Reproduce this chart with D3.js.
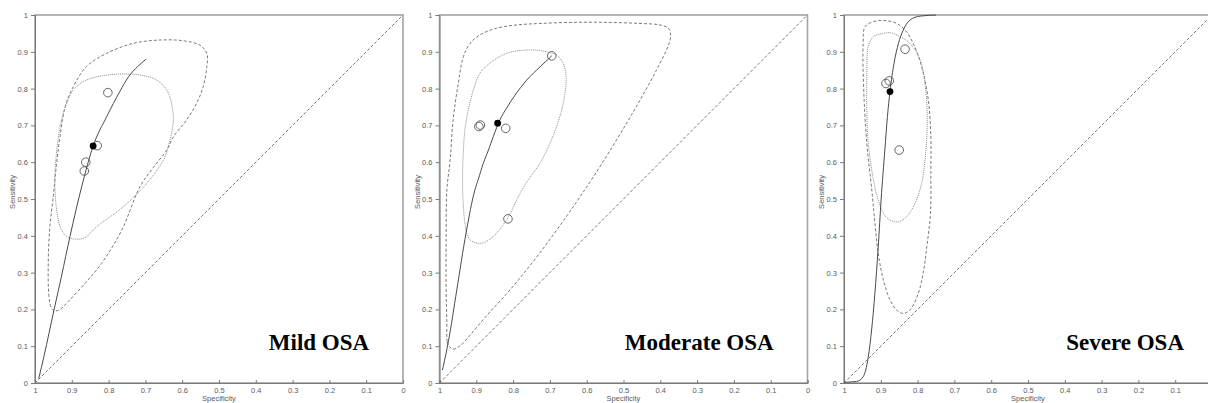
<!DOCTYPE html>
<html>
<head>
<meta charset="utf-8">
<script src="https://cdn.jsdelivr.net/npm/d3@7"></script>
<style>
body { margin: 0; background: #fff; }
svg { display: block; }
</style>
</head>
<body>
<svg width="1208" height="403"></svg>
<script>

// axis ticks
var tickValues = [0, 0.1, 0.2, 0.3, 0.4, 0.5, 0.6, 0.7, 0.8, 0.9, 1];
var tickLabels = ["0", "0.1", "0.2", "0.3", "0.4", "0.5", "0.6", "0.7", "0.8", "0.9", "1"];
var chanceLine = [[1, 0], [0, 1]];

// points are [specificity, sensitivity]

// Mild OSA
var mildStudies = [[0.802, 0.789], [0.831, 0.645], [0.862, 0.600], [0.866, 0.576]];
var mildSummary = [[0.842, 0.644]];
var mildSroc = [[0.990, 0.012], [0.975, 0.075], [0.962, 0.135], [0.948, 0.200], [0.928, 0.290],
    [0.905, 0.398], [0.873, 0.534], [0.842, 0.644], [0.805, 0.724], [0.769, 0.793],
    [0.746, 0.832], [0.721, 0.860], [0.698, 0.880]];
var mildConfidence = [[0.932, 0.696], [0.914, 0.760], [0.896, 0.796], [0.869, 0.819], [0.832, 0.832],
    [0.778, 0.839], [0.715, 0.837], [0.669, 0.823], [0.642, 0.796], [0.629, 0.760],
    [0.624, 0.715], [0.629, 0.679], [0.638, 0.642], [0.651, 0.606], [0.696, 0.543],
    [0.760, 0.479], [0.832, 0.425], [0.864, 0.395], [0.891, 0.391], [0.910, 0.396],
    [0.928, 0.416], [0.941, 0.470], [0.946, 0.561]];
var mildPrediction = [[0.955, 0.203], [0.962, 0.235], [0.964, 0.325], [0.960, 0.420], [0.950, 0.510],
    [0.942, 0.590], [0.932, 0.670], [0.918, 0.751], [0.896, 0.805], [0.860, 0.860],
    [0.805, 0.896], [0.733, 0.923], [0.660, 0.932], [0.597, 0.930], [0.552, 0.918],
    [0.533, 0.896], [0.533, 0.860], [0.543, 0.805], [0.561, 0.760], [0.588, 0.715],
    [0.624, 0.669], [0.642, 0.633], [0.679, 0.585], [0.715, 0.533], [0.764, 0.416],
    [0.819, 0.325], [0.864, 0.271], [0.910, 0.221], [0.932, 0.200], [0.946, 0.196]];

// Moderate OSA
var moderateStudies = [[0.893, 0.697], [0.889, 0.701], [0.820, 0.692], [0.814, 0.446], [0.695, 0.889]];
var moderateSummary = [[0.842, 0.706]];
var moderateSroc = [[0.992, 0.035], [0.990, 0.044], [0.976, 0.112], [0.953, 0.253], [0.928, 0.407],
    [0.904, 0.524], [0.895, 0.552], [0.881, 0.597], [0.867, 0.633], [0.854, 0.669],
    [0.836, 0.715], [0.817, 0.748], [0.795, 0.782], [0.763, 0.823], [0.727, 0.859],
    [0.695, 0.889]];
var moderateConfidence = [[0.754, 0.905], [0.709, 0.900], [0.682, 0.891], [0.664, 0.869], [0.656, 0.832],
    [0.659, 0.787], [0.668, 0.742], [0.682, 0.696], [0.700, 0.651], [0.727, 0.597],
    [0.759, 0.552], [0.786, 0.506], [0.806, 0.464], [0.829, 0.427], [0.854, 0.398],
    [0.881, 0.381], [0.899, 0.380], [0.917, 0.389], [0.926, 0.407], [0.931, 0.434],
    [0.935, 0.479], [0.937, 0.524], [0.937, 0.579], [0.935, 0.633], [0.931, 0.688],
    [0.922, 0.742], [0.908, 0.796], [0.890, 0.842], [0.863, 0.869], [0.817, 0.896]];
var moderatePrediction = [[0.973, 0.099], [0.979, 0.112], [0.980, 0.162], [0.982, 0.253], [0.982, 0.389],
    [0.980, 0.524], [0.971, 0.606], [0.963, 0.715], [0.949, 0.814], [0.935, 0.887],
    [0.917, 0.923], [0.890, 0.946], [0.845, 0.964], [0.790, 0.973], [0.727, 0.977],
    [0.636, 0.980], [0.546, 0.980], [0.455, 0.977], [0.401, 0.973], [0.378, 0.964],
    [0.372, 0.946], [0.376, 0.923], [0.410, 0.851], [0.455, 0.769], [0.491, 0.707],
    [0.537, 0.631], [0.582, 0.560], [0.618, 0.506], [0.654, 0.454], [0.709, 0.378],
    [0.763, 0.308], [0.817, 0.243], [0.872, 0.183], [0.917, 0.130], [0.944, 0.101],
    [0.963, 0.092]];

// Severe OSA
var severeStudies = [[0.834, 0.907], [0.877, 0.821], [0.886, 0.814], [0.850, 0.633]];
var severeSummary = [[0.875, 0.792]];
var severeSroc = [[0.999, 0.000], [0.993, 0.002], [0.966, 0.004], [0.948, 0.017], [0.934, 0.071],
    [0.925, 0.144], [0.916, 0.244], [0.907, 0.370], [0.899, 0.500], [0.889, 0.633],
    [0.882, 0.724], [0.875, 0.792], [0.864, 0.869], [0.852, 0.923], [0.839, 0.959],
    [0.821, 0.986], [0.793, 0.997], [0.750, 1.000]];
var severeConfidence = [[0.875, 0.952], [0.857, 0.946], [0.821, 0.923], [0.793, 0.878], [0.777, 0.787],
    [0.774, 0.696], [0.780, 0.606], [0.789, 0.543], [0.807, 0.488], [0.830, 0.452],
    [0.852, 0.438], [0.875, 0.443], [0.893, 0.461], [0.907, 0.497], [0.920, 0.552],
    [0.934, 0.651], [0.938, 0.742], [0.938, 0.832], [0.934, 0.914], [0.920, 0.941],
    [0.893, 0.950]];
var severePrediction = [[0.943, 0.968], [0.920, 0.982], [0.893, 0.985], [0.861, 0.979], [0.834, 0.959],
    [0.812, 0.923], [0.789, 0.860], [0.771, 0.769], [0.764, 0.669], [0.764, 0.579],
    [0.765, 0.461], [0.775, 0.370], [0.785, 0.298], [0.798, 0.244], [0.821, 0.198],
    [0.839, 0.189], [0.857, 0.198], [0.875, 0.226], [0.893, 0.280], [0.907, 0.352],
    [0.916, 0.434], [0.924, 0.520], [0.938, 0.651], [0.946, 0.787], [0.948, 0.923]];

var panels = [
    {title: "Mild OSA", left: 35, titleX: 0.092,
     studies: mildStudies, summary: mildSummary, sroc: mildSroc,
     conf: mildConfidence, pred: mildPrediction},
    {title: "Moderate OSA", left: 439.5, titleX: 0.092,
     studies: moderateStudies, summary: moderateSummary, sroc: moderateSroc,
     conf: moderateConfidence, pred: moderatePrediction},
    {title: "Severe OSA", left: 844, titleX: 0.076,
     studies: severeStudies, summary: severeSummary, sroc: severeSroc,
     conf: severeConfidence, pred: severePrediction}
];

var svg = d3.select("svg"),
    svgWidth = +svg.attr("width"),
    plotTop = 15,
    size = 368;

var x = d3.scaleLinear().domain([1, 0]).range([0, size]);
var y = d3.scaleLinear().domain([0, 1]).range([size, 0]);

var srocLine = d3.line()
    .x(function(d) { return x(d[0]); })
    .y(function(d) { return y(d[1]); })
    .curve(d3.curveMonotoneX);

var straightLine = d3.line()
    .x(function(d) { return x(d[0]); })
    .y(function(d) { return y(d[1]); });

var closedLine = d3.line()
    .x(function(d) { return x(d[0]); })
    .y(function(d) { return y(d[1]); })
    .curve(d3.curveCatmullRomClosed);

panels.forEach(function(p) {
    var g = svg.append("g")
        .attr("transform", "translate(" + p.left + "," + plotTop + ")");

    // frame
    g.append("rect")
        .attr("width", size)
        .attr("height", size)
        .attr("fill", "none")
        .attr("stroke", "#a3a3a3")
        .attr("stroke-width", 1.6);

    // axes
    g.append("g")
        .attr("class", "axis")
        .call(d3.axisLeft(y).tickValues(tickValues)
            .tickFormat(function(d, i) { return tickLabels[i]; })
            .tickSize(4).tickPadding(3));

    var xAxis = g.append("g")
        .attr("class", "axis")
        .attr("transform", "translate(0," + size + ")")
        .call(d3.axisBottom(x).tickValues(tickValues)
            .tickFormat(function(d, i) { return tickLabels[i]; })
            .tickSize(-3).tickPadding(5));

    // labels that fall past the page edge are not shown in the original
    xAxis.selectAll(".tick text")
        .filter(function(d) { return p.left + x(d) + 3 > svgWidth; })
        .remove();

    g.selectAll(".axis path, .axis line")
        .attr("stroke", "#7a7a7a");
    g.selectAll(".axis text")
        .attr("fill", "#5a5a5a")
        .style("font-family", "'Liberation Sans', Arial, sans-serif")
        .style("font-size", "7.5px");

    // axis titles
    g.append("text")
        .attr("x", size / 2)
        .attr("y", size + 18)
        .attr("text-anchor", "middle")
        .attr("fill", "#5a5a5a")
        .style("font-family", "'Liberation Sans', Arial, sans-serif")
        .style("font-size", "7.5px")
        .text("Specificity");

    g.append("text")
        .attr("transform", "translate(-20," + (size / 2 - 7) + ")rotate(-90)")
        .attr("text-anchor", "middle")
        .attr("fill", "#5a5a5a")
        .style("font-family", "'Liberation Sans', Arial, sans-serif")
        .style("font-size", "7.5px")
        .text("Sensitivity");

    // chance diagonal
    g.append("path")
        .attr("d", straightLine(chanceLine))
        .attr("fill", "none")
        .attr("stroke", "#6a6a6a")
        .attr("stroke-width", 0.9)
        .attr("stroke-dasharray", "3,2");

    // prediction region
    g.append("path")
        .attr("d", closedLine(p.pred))
        .attr("fill", "none")
        .attr("stroke", "#6a6a6a")
        .attr("stroke-width", 0.9)
        .attr("stroke-dasharray", "3,2");

    // confidence region
    g.append("path")
        .attr("d", closedLine(p.conf))
        .attr("fill", "none")
        .attr("stroke", "#8c8c8c")
        .attr("stroke-width", 1)
        .attr("stroke-dasharray", "1,1");

    // sroc curve
    g.append("path")
        .attr("d", srocLine(p.sroc))
        .attr("fill", "none")
        .attr("stroke", "#4a4a4a")
        .attr("stroke-width", 1);

    // study points
    g.selectAll(null)
        .data(p.studies)
        .enter()
        .append("circle")
        .attr("cx", function(d) { return x(d[0]); })
        .attr("cy", function(d) { return y(d[1]); })
        .attr("r", 4.3)
        .attr("fill", "none")
        .attr("stroke", "#555")
        .attr("stroke-width", 0.9);

    // summary point
    g.selectAll(null)
        .data(p.summary)
        .enter()
        .append("circle")
        .attr("cx", function(d) { return x(d[0]); })
        .attr("cy", function(d) { return y(d[1]); })
        .attr("r", 3.4)
        .attr("fill", "#000");

    // panel title
    g.append("text")
        .attr("x", x(p.titleX))
        .attr("y", y(0.09))
        .attr("text-anchor", "end")
        .attr("fill", "#000")
        .style("font-family", "'Liberation Serif', 'Times New Roman', serif")
        .style("font-weight", "bold")
        .style("font-size", "23px")
        .text(p.title);
});

</script>
</body>
</html>
